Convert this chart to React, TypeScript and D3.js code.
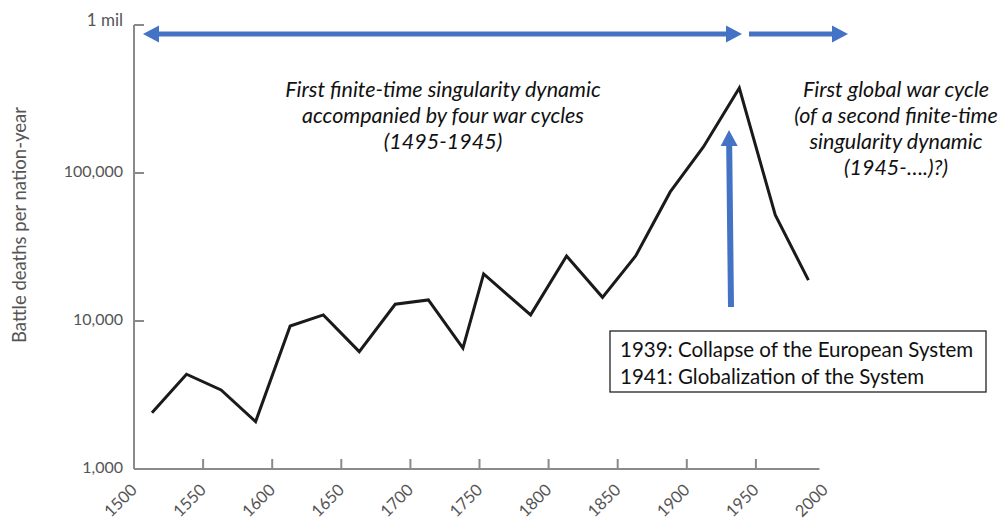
import React from "react";
import * as d3 from "d3";

const years = [1513, 1538, 1563, 1588, 1613, 1637, 1663, 1689, 1713, 1738, 1753, 1787, 1813, 1839, 1863, 1888, 1912, 1938, 1964, 1988];
const deaths = [2400, 4370, 3420, 2090, 9250, 10990, 6210, 12980, 13870, 6550, 20800, 11000, 27500, 14450, 27500, 74500, 150000, 375000, 52000, 18900];
const xTickYears = [1500, 1550, 1600, 1650, 1700, 1750, 1800, 1850, 1900, 1950, 2000];
const yTickValues = [1000, 10000, 100000, 1000000];
const yTickLabels = ["1,000", "10,000", "100,000", "1 mil"];
const yTitle = "Battle deaths per nation-year";
const centerNote = ["First finite-time singularity dynamic", "accompanied by four war cycles", "(1495-1945)"];
const rightNote = ["First global war cycle", "(of a second finite-time", "singularity dynamic", "(1945-….)?)"];
const boxNote = ["1939: Collapse of the European System", "1941: Globalization of the System"];

const W = 1007;
const H = 530;
const BLUE = "#4472C4";
const AXIS = "#8a8a8a";
const LABEL = "#555";

function arrowHead(tipX: number, tipY: number, angle: number, len: number, half: number) {
  const c = Math.cos(angle), s = Math.sin(angle);
  const bx = tipX - len * c, by = tipY - len * s;
  return `${tipX},${tipY} ${bx - half * s},${by + half * c} ${bx + half * s},${by - half * c}`;
}

export default function App() {
  const x = d3.scaleLinear().domain([1500, 2000]).range([134, 825]);
  const y = d3.scaleLog().domain([1000, 1000000]).range([469, 25]);
  const pts: [number, number][] = years.map((yr, i) => [yr, deaths[i]]);
  const line = d3.line<[number, number]>().x(d => x(d[0])).y(d => y(d[1]));

  const x0 = x(1500), y0 = y(1000);
  const xEnd = x(1996);

  const topY = 34;
  const head = 16, half = 8.5, shaft = 5;

  return (
    <svg width={W} height={H} style={{ position: "absolute", left: 0, top: 0, background: "#fff" }}
      fontFamily="Lato, 'Open Sans', sans-serif">
      {/* axes */}
      <line x1={x0} y1={y(1000000)} x2={x0} y2={y0} stroke={AXIS} strokeWidth={2} />
      <line x1={x0} y1={y0} x2={xEnd} y2={y0} stroke={AXIS} strokeWidth={2} />
      {yTickValues.map((v, i) => (
        <g key={"yt" + v}>
          {v !== 1000 && <line x1={x0} x2={x0 + 10} y1={y(v)} y2={y(v)} stroke={AXIS} strokeWidth={2} />}
          <text x={x0 - 11} y={y(v) + (v === 1000000 ? -3 : 0)} textAnchor="end" dominantBaseline="middle"
            fontSize={v === 1000000 ? 17 : 16} fill={LABEL}>{yTickLabels[i]}</text>
        </g>
      ))}
      {xTickYears.map(t => (
        <g key={"xt" + t}>
          {t > 1500 && t < 2000 && <line x1={x(t)} x2={x(t)} y1={y0} y2={y0 - 10} stroke={AXIS} strokeWidth={2} />}
          <text transform={`translate(${x(t) + 1},${y0 + 19}) rotate(-45)`} textAnchor="end"
            dominantBaseline="middle" fontSize={16.5} fill={LABEL}>{t}</text>
        </g>
      ))}
      <text transform={`translate(21,225) rotate(-90)`} textAnchor="middle" dominantBaseline="middle"
        fontSize={18.5} fill={LABEL}>{yTitle}</text>

      {/* data line */}
      <path d={line(pts) || ""} fill="none" stroke="#1a1a1a" strokeWidth={3} strokeLinejoin="miter" />

      {/* top arrows */}
      <line x1={143 + head} x2={742 - head} y1={topY} y2={topY} stroke={BLUE} strokeWidth={shaft} />
      <polygon points={arrowHead(143, topY, Math.PI, head, half)} fill={BLUE} />
      <polygon points={arrowHead(742, topY, 0, head, half)} fill={BLUE} />
      <line x1={749} x2={848 - head} y1={topY} y2={topY} stroke={BLUE} strokeWidth={shaft} />
      <polygon points={arrowHead(848, topY, 0, head, half)} fill={BLUE} />

      {/* vertical arrow */}
      <line x1={731} y1={307} x2={729.2} y2={130 + head} stroke={BLUE} strokeWidth={6} />
      <polygon points={arrowHead(729, 130, -Math.PI / 2 - 0.01, head, half)} fill={BLUE} />

      {/* notes */}
      {centerNote.map((s, i) => (
        <text key={"c" + i} x={443} y={97 + i * 26} textAnchor="middle" fontSize={21.5} fontStyle="italic" fill="#111">{s}</text>
      ))}
      {rightNote.map((s, i) => (
        <text key={"r" + i} x={896} y={97 + i * 26} textAnchor="middle" fontSize={21.5} fontStyle="italic" fill="#111">{s}</text>
      ))}

      {/* box */}
      <rect x={610} y={331} width={376} height={61} fill="#fff" stroke="#222" strokeWidth={1.3} />
      {boxNote.map((s, i) => (
        <text key={"b" + i} x={620} y={357 + i * 27} fontSize={20.5} fill="#111">{s}</text>
      ))}
    </svg>
  );
}
